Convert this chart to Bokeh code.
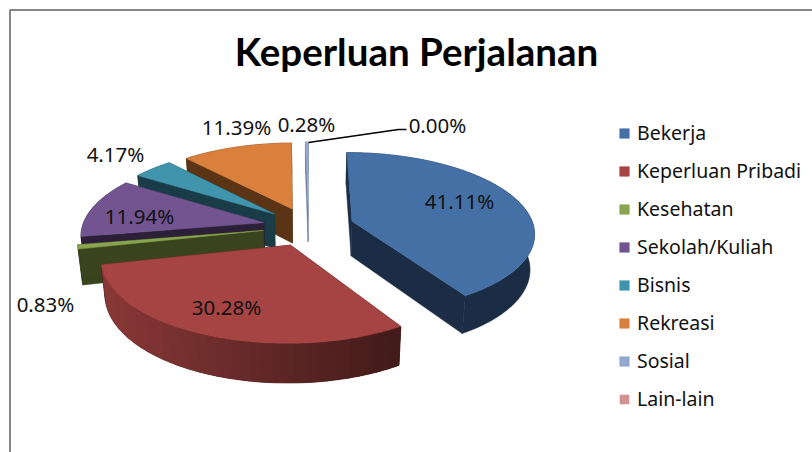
import numpy as np
from bokeh.plotting import figure
from bokeh.models import Range1d, Legend, LegendItem
from bokeh.core.properties import value
from bokeh.embed import file_html
from bokeh.resources import INLINE

TITLE = "Keperluan Perjalanan"
categories = ["Bekerja", "Keperluan Pribadi", "Kesehatan", "Sekolah/Kuliah",
              "Bisnis", "Rekreasi", "Sosial", "Lain-lain"]
percent = [41.11, 30.28, 0.83, 11.94, 4.17, 11.39, 0.28, 0.00]

top_colors = ["#4570A5", "#A54442", "#89A64F", "#725590", "#4095AD", "#D8803C", "#93A9CF", "#D09392"]
side_colors = ["#1B2D44", "#421A17", "#39431D", "#2C2038", "#193C47", "#5A3415", "#6F7F9C", "#8A6160"]

# label placement: centre of each percentage text, in page pixels
label_x = [459, 226, 45, 139, 115, 236, 306, 437]
label_y = [200, 306, 303, 215, 153, 126, 123, 124]

# projection of the tilted pie
X0, Y0, RX, RY, PERSP, EXPL_U, EXPL_V, DEPTH = 308, 226, 181.7, 79.3, 0.136, 0.2513, 0.246, 35
FONT = "Noto Sans"


def project(u, v):
    s = 1 / (1 + PERSP * v)
    return X0 + RX * u * s, Y0 - RY * v * s, s


def lower(x, y, s):
    return X0 + (x - X0) * 0.98, y + DEPTH * s ** 0.7


p = figure(width=812, height=452, x_range=Range1d(0, 812), y_range=Range1d(452, 0),
           output_backend="svg", toolbar_location=None, min_border=0,
           outline_line_color=None, background_fill_color="white")
p.axis.visible = False
p.grid.visible = False

# chart frame (left and top edges are the only ones inside the picture)
p.line([9.5, 9.5, 812], [452, 9.5, 9.5], line_color="#868686", line_width=2)

edges = np.concatenate([[0], np.cumsum(percent)]) * 3.6
order = [6, 7, 5, 4, 3, 2, 0, 1]
tops = {}
for i in order:
    a0, a1 = np.radians(edges[i]), np.radians(edges[i + 1])
    mid = (a0 + a1) / 2
    cu, cv = EXPL_U * np.sin(mid), EXPL_V * np.cos(mid)
    ang = np.linspace(a0, a1, max(int(np.degrees(a1 - a0)) + 1, 2))
    rx, ry, rs = project(cu + np.sin(ang), cv + np.cos(ang))
    ax, ay, asc = project(np.array([cu]), np.array([cv]))
    bx, by = lower(rx, ry, rs)
    bax, bay = lower(ax, ay, asc)
    has_area = percent[i] > 0
    if has_area:
        # the two flat cut faces
        for k in (0, -1):
            xs = [ax[0], rx[k], bx[k], bax[0]]
            ys = [ay[0], ry[k], by[k], bay[0]]
            p.patch(xs, ys, fill_color=side_colors[i], line_color=side_colors[i], line_width=0.5)
        # the outer curved wall: one solid shape, with bands across it on the red slice
        p.patch(np.concatenate([rx, bx[::-1]]), np.concatenate([ry, by[::-1]]),
                fill_color=side_colors[i], line_color=side_colors[i], line_width=0.5)
    if i == 1:
        step = 3
        for j in range(0, len(ang) - 1, step):
            e = min(j + step + 1, len(ang) - 1)
            t = (rx.max() - rx[j]) / (rx.max() - rx.min())
            f = 0.40 + 0.44 * t
            col = "#%02X%02X%02X" % tuple(int(c * f) for c in (0xA5, 0x44, 0x42))
            p.patch(np.concatenate([rx[j:e + 1], bx[j:e + 1][::-1]]),
                    np.concatenate([ry[j:e + 1], by[j:e + 1][::-1]]),
                    fill_color=col, line_color=None)
    # top surface
    tops[i] = p.patch(np.concatenate([ax, rx]), np.concatenate([ay, ry]),
                      fill_color=top_colors[i], line_color=top_colors[i] if has_area else None,
                      line_width=0.5)

# leader line of the 0.00% label
p.line([308, 398, 406], [142, 129, 129], line_color="black", line_width=1.5)

labels = ["%.2f%%" % v for v in percent]
p.text(label_x, label_y, text=labels, text_font=value(FONT), text_font_size="20.5px",
       text_align="center", text_baseline="middle", text_color="#111111")
p.text([416], [50], text=[TITLE], text_font=value("Lato"), text_font_style="bold",
       text_font_size="38.5px", text_align="center", text_baseline="middle", text_color="black")

legend = Legend(items=[LegendItem(label=c, renderers=[tops[i]]) for i, c in enumerate(categories)],
                location=(618, 40), orientation="vertical", glyph_width=12, glyph_height=12,
                label_height=20, spacing=11, padding=0, margin=0, label_standoff=7,
                label_text_font=FONT, label_text_font_size="19.5px", label_text_color="#111111",
                border_line_color=None, background_fill_alpha=0)
p.add_layout(legend)

open("out.html", "w").write(file_html(p, INLINE))
